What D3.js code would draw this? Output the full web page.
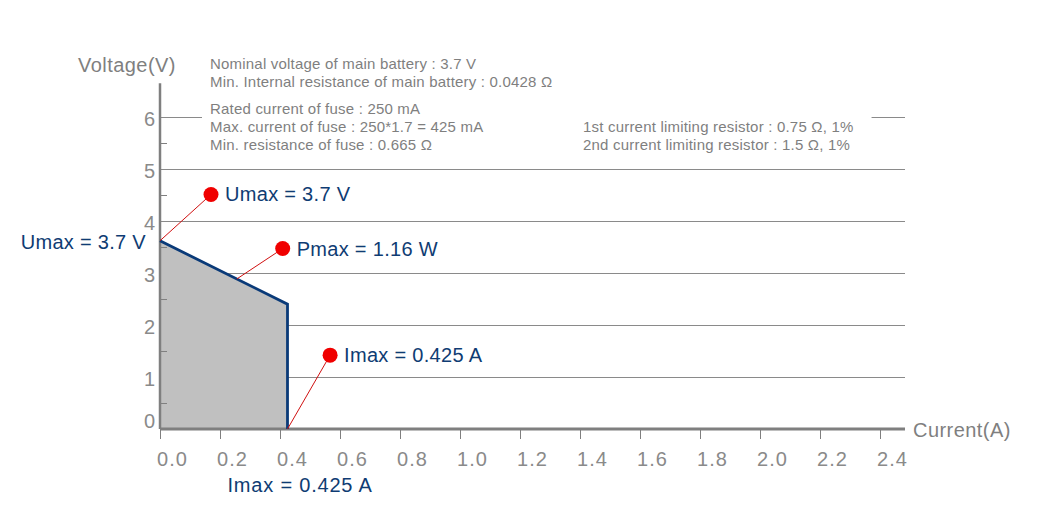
<!DOCTYPE html>
<html>
<head>
<meta charset="utf-8">
<script src="https://cdn.jsdelivr.net/npm/d3@7"></script>
<style>
  body { margin: 0; background: #fff; }
  svg { display: block; font-family: "Liberation Sans", Arial, sans-serif; }
  .note { font-size: 15px; fill: #7f7f7f; letter-spacing: 0.2px; }
  .callout { font-size: 20px; fill: #0f3c73; letter-spacing: 0.3px; }
  .title { font-size: 20px; fill: #7f7f7f; letter-spacing: 0.45px; }
</style>
</head>
<body>
<svg id="svg" width="1050" height="530"></svg>
<script>
// data
const xTicks = [0, 0.2, 0.4, 0.6, 0.8, 1.0, 1.2, 1.4, 1.6, 1.8, 2.0, 2.2, 2.4];
const yTicks = [0, 1, 2, 3, 4, 5, 6];
const yMinor = [0.5, 1.5, 2.5, 3.5, 4.5, 5.5];
const curveCurrent = [0, 0.425, 0.425];
const curveVoltage = [3.62, 2.4, 0];
const calloutText = ["Umax = 3.7 V", "Pmax = 1.16 W", "Imax = 0.425 A"];
const dotCurrent = [0.17, 0.409, 0.567];
const dotVoltage = [4.51, 3.47, 1.42];
const targetCurrent = [0, 0.256, 0.425];
const targetVoltage = [3.62, 2.885, 0];
const notesTop = ["Nominal voltage of main battery : 3.7 V", "Min. Internal resistance of main battery : 0.0428 \u03A9"];
const notesFuse = ["Rated current of fuse : 250 mA", "Max. current of fuse : 250*1.7 = 425 mA", "Min. resistance of fuse : 0.665 \u03A9"];
const notesResistor = ["1st current limiting resistor : 0.75 \u03A9, 1%", "2nd current limiting resistor : 1.5 \u03A9, 1%"];

let svg = d3.select("#svg");
const left = 160, right = 905, bottom = 429;

let x = d3.scaleLinear().domain([0, 2.4]).range([left, 880]);
let y = d3.scaleLinear().domain([0, 6]).range([bottom, 117]);

// grid lines
svg.append("g")
  .attr("transform", "translate(" + left + ",0)")
  .call(d3.axisLeft(y).tickValues(yTicks.slice(1)).tickSize(-(right - left)).tickFormat(""))
  .call((g) => g.select(".domain").remove())
  .selectAll("line").attr("stroke", "#8a8a8a");

let curve = curveCurrent.map((c, i) => ({ c: c, v: curveVoltage[i] }));
svg.append("path")
  .datum(curve)
  .attr("d", d3.area().x((d) => x(d.c)).y0(y(0)).y1((d) => y(d.v)))
  .attr("fill", "#c0c0c0");

// minor ticks
svg.append("g")
  .attr("transform", "translate(" + left + ",0)")
  .call(d3.axisRight(y).tickValues(yMinor).tickSize(7).tickFormat(""))
  .call((g) => g.select(".domain").remove())
  .selectAll("line").attr("stroke", "#7f7f7f");

// y axis
let yAxis = svg.append("g")
  .attr("transform", "translate(" + left + ",0)")
  .call(d3.axisLeft(y).tickValues(yTicks).tickSize(0).tickPadding(5).tickFormat(d3.format("d")));
yAxis.select(".domain").remove();
yAxis.selectAll("text")
  .attr("fill", "#8a8a8a")
  .style("font-size", "20px")
  .attr("dy", (d) => (d === 0 ? "-0.1em" : "0.42em"));
svg.append("line")
  .attr("x1", left).attr("x2", left)
  .attr("y1", y(6.65)).attr("y2", bottom)
  .attr("stroke", "#7f7f7f").attr("stroke-width", 2.5);

// x axis
let xAxis = svg.append("g")
  .attr("transform", "translate(0," + bottom + ")")
  .call(d3.axisBottom(x).tickValues(xTicks).tickSize(10).tickPadding(13).tickFormat(d3.format(".1f")));
xAxis.select(".domain").remove();
xAxis.selectAll("line").attr("stroke", "#7f7f7f");
xAxis.selectAll("text")
  .attr("fill", "#8a8a8a")
  .attr("dx", 12)
  .style("font-size", "20px")
  .style("letter-spacing", "1px");
svg.append("line")
  .attr("x1", left).attr("x2", right)
  .attr("y1", bottom).attr("y2", bottom)
  .attr("stroke", "#7f7f7f").attr("stroke-width", 3);

// axis titles
svg.append("text").attr("class", "title").attr("x", 78).attr("y", 72).text("Voltage(V)");
svg.append("text").attr("class", "title").attr("x", 913).attr("y", 437).text("Current(A)");

// curve outline
svg.append("path")
  .datum(curve)
  .attr("d", d3.line().x((d) => x(d.c)).y((d) => y(d.v)))
  .attr("fill", "none")
  .attr("stroke", "#0a3a78")
  .attr("stroke-width", 2.8);

// notes
function noteBlock(lines, x0, y0) {
  let g = svg.append("g");
  let t = g.append("text").attr("class", "note");
  lines.forEach((l, i) => {
    t.append("tspan").attr("x", x0).attr("y", y0 + i * 18).text(l);
  });
  return g;
}
noteBlock(notesTop, 210, 69);
let fuse = noteBlock(notesFuse, 210, 114);
let res = noteBlock(notesResistor, 583, 132);
let fb = fuse.node().getBBox(), rb = res.node().getBBox();
svg.append("rect")
  .attr("x", fb.x - 8)
  .attr("y", fb.y)
  .attr("width", rb.x + rb.width + 18 - (fb.x - 8))
  .attr("height", fb.height)
  .attr("fill", "#fff");
fuse.raise();
res.raise();

// callouts
calloutText.forEach((label, i) => {
  svg.append("line")
    .attr("x1", x(dotCurrent[i])).attr("y1", y(dotVoltage[i]))
    .attr("x2", x(targetCurrent[i])).attr("y2", y(targetVoltage[i]))
    .attr("stroke", "#d01010").attr("stroke-width", 1);
  svg.append("circle")
    .attr("cx", x(dotCurrent[i])).attr("cy", y(dotVoltage[i]))
    .attr("r", 7.5).attr("fill", "#f00000");
  svg.append("text").attr("class", "callout")
    .attr("x", x(dotCurrent[i]) + 14).attr("y", y(dotVoltage[i]) + 7)
    .text(label);
});

svg.append("text").attr("class", "callout")
  .attr("x", x(0) - 14).attr("y", y(curveVoltage[0]) + 8)
  .attr("text-anchor", "end")
  .text(calloutText[0]);
svg.append("text").attr("class", "callout")
  .attr("x", x(0.425) - 60).attr("y", 492)
  .style("letter-spacing", "0.8px")
  .text(calloutText[2]);
</script>
</body>
</html>
